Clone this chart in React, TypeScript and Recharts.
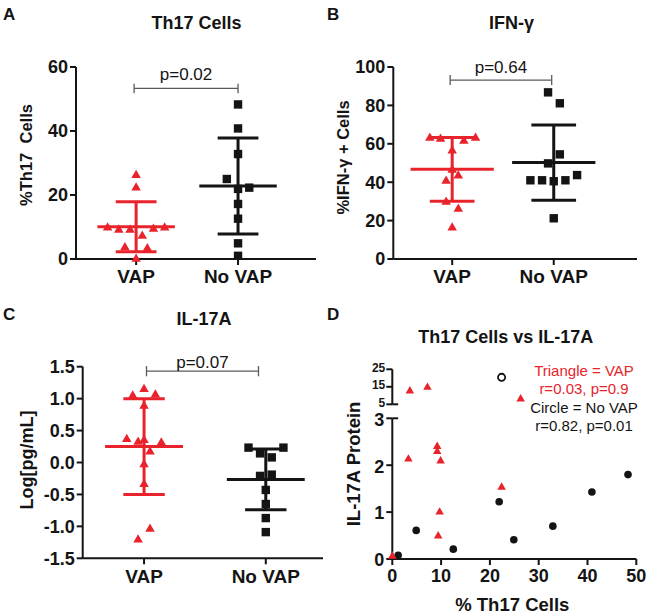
import React from 'react';
import { ScatterChart, Scatter, XAxis, YAxis, ReferenceLine } from 'recharts';

const FONT = '"Liberation Sans", Arial, sans-serif';
const RED = '#e8232b';
const BLACK = '#141414';
const GRAY = '#5a5a5a';

const groups = ['VAP', 'No VAP'];

// A: Th17 cells (%)
const th17Vap = [26.2, 22.3, 9.8, 9.1, 9.1, 9.4, 9.8, 7.2, 3.6, 3.3, 0];
const th17VapJitter = [0, 0, -0.28, -0.17, -0.06, 0.17, 0.28, 0.06, -0.11, 0.11, 0];
const th17NoVap = [48.3, 40.8, 32.8, 25.0, 21.9, 22.3, 17.2, 12.6, 4.9, 1.0];
const th17NoVapJitter = [0, 0, 0, -0.11, 0, 0.11, 0, 0, 0, 0];
const th17Mean = [10.1, 22.8];
const th17Sd = [7.8, 15.0];

// B: IFN-gamma (%)
const ifnVap = [63, 62.5, 61.5, 63, 56.4, 46.4, 40.6, 43.4, 29.7, 26, 16.3];
const ifnVapJitter = [-0.22, -0.115, 0.115, 0.23, 0, 0, -0.06, 0.06, -0.06, 0.06, 0];
const ifnNoVap = [86.8, 81.1, 54.5, 49.8, 41, 41, 40.5, 41, 43.7, 21.2];
const ifnNoVapJitter = [-0.056, 0.06, 0.06, -0.056, -0.23, -0.115, 0, 0.115, 0.23, 0];
const ifnMean = [46.7, 50.2];
const ifnSd = [16.6, 19.6];

// C: IL-17A log[pg/mL]
const il17Vap = [1.146, 1.046, 1.06, 0.885, 0.364, 0.32, 0.35, 0.31, 0.17, -0.03, -0.34, -1.04, -1.21];
const il17VapJitter = [0, -0.093, 0.093, 0, -0.142, -0.049, 0, 0.142, 0.049, 0, 0, 0.049, -0.049];
const il17NoVap = [0.233, 0.233, 0.143, 0.08, -0.21, -0.19, -0.43, -0.65, -0.87, -1.09];
const il17NoVapJitter = [-0.142, 0.145, -0.047, 0.049, -0.047, 0.049, 0, 0, 0, 0];
const il17Mean = [0.25, -0.265];
const il17Sd = [0.75, 0.475];

// D: Th17 vs IL-17A protein
const corrVapX = [3.6, 7.2, 26.3, 3.3, 9.2, 9.2, 9.9, 22.4, 9.7, 9.4, 0];
const corrVapY = [12.6, 14.7, 8, 2.13, 2.4, 2.29, 2.09, 1.53, 1.0, 0.49, 0.06];
const corrNoVapX = [1.2, 4.9, 12.5, 21.9, 24.9, 32.9, 40.9, 48.3, 22.4];
const corrNoVapY = [0.08, 0.61, 0.21, 1.22, 0.41, 0.7, 1.43, 1.8, 20.4];
const corrText = ['Triangle = VAP', 'r=0.03, p=0.9', 'Circle = No VAP', 'r=0.82, p=0.01'];

const toPoints = (vals: number[], jitter: number[], center: number) =>
  vals.map((y, i) => ({ x: center + jitter[i], y }));
const pairs = (xs: number[], ys: number[]) => xs.map((x, i) => ({ x, y: ys[i] }));

const Tri = (s: number) => (p: any) => {
  const h = s * 0.87;
  return (
    <polygon
      points={`${p.cx},${p.cy - (h * 2) / 3} ${p.cx - s / 2},${p.cy + h / 3} ${p.cx + s / 2},${p.cy + h / 3}`}
      fill={RED}
    />
  );
};
const Sq = (p: any) => <rect x={p.cx - 4.2} y={p.cy - 4.2} width={8.4} height={8.4} fill={BLACK} />;
const Dot = (p: any) => <circle cx={p.cx} cy={p.cy} r={3.8} fill={BLACK} />;
const OpenDot = (p: any) => <circle cx={p.cx} cy={p.cy} r={3.6} fill="#fff" stroke={BLACK} strokeWidth={1.8} />;

const yLabel = (text: string, dx: number, dy: number, size: number) => ({
  value: text,
  content: (props: any) => {
    const vb = props.viewBox;
    const cx = vb.x + dx;
    const cy = vb.y + vb.height / 2 + dy;
    return (
      <text x={cx} y={cy} transform={`rotate(-90 ${cx} ${cy})`} textAnchor="middle"
        dominantBaseline="central" fontFamily={FONT} fontWeight="bold" fontSize={size} fill={BLACK}
        style={{ whiteSpace: 'pre' }}>
        {text}
      </text>
    );
  },
});

const meanSd = (key: string, cx: number, mean: number, sd: number, color: string, half: number, cap: number) => [
  <ReferenceLine key={key + 'm'} segment={[{ x: cx - half, y: mean }, { x: cx + half, y: mean }]} stroke={color} strokeWidth={3} ifOverflow="visible" />,
  <ReferenceLine key={key + 'v'} segment={[{ x: cx, y: mean - sd }, { x: cx, y: mean + sd }]} stroke={color} strokeWidth={3} ifOverflow="visible" />,
  <ReferenceLine key={key + 't'} segment={[{ x: cx - cap, y: mean + sd }, { x: cx + cap, y: mean + sd }]} stroke={color} strokeWidth={3} ifOverflow="visible" />,
  <ReferenceLine key={key + 'b'} segment={[{ x: cx - cap, y: mean - sd }, { x: cx + cap, y: mean - sd }]} stroke={color} strokeWidth={3} ifOverflow="visible" />,
];

const bracket = (x1: number, x2: number, y: number, tick: number, text: string, offset: number) => [
  <ReferenceLine key="br" segment={[{ x: x1, y }, { x: x2, y }]} stroke={GRAY} strokeWidth={1.3} ifOverflow="visible"
    label={{ value: text, position: 'top', offset, fontFamily: FONT, fontSize: 17, fill: BLACK }} />,
  <ReferenceLine key="bl" segment={[{ x: x1, y: y - tick }, { x: x1, y: y + tick }]} stroke={GRAY} strokeWidth={1.3} ifOverflow="visible" />,
  <ReferenceLine key="brr" segment={[{ x: x2, y: y - tick }, { x: x2, y: y + tick }]} stroke={GRAY} strokeWidth={1.3} ifOverflow="visible" />,
];

const axisProps = {
  axisLine: { stroke: BLACK, strokeWidth: 2 },
  tickLine: { stroke: BLACK, strokeWidth: 2 },
  tickSize: 6,
  interval: 0 as const,
};
const yTick = { fill: BLACK, fontSize: 18, fontWeight: 'bold', fontFamily: FONT };
const xTick = { fill: BLACK, fontSize: 19, fontWeight: 'bold', fontFamily: FONT };

const catFormat = (v: number) => groups[Math.round(v) - 1];

const DotPlot = (props: any) => (
  <div style={{ position: 'absolute', left: props.left, top: props.top }}>
    <ScatterChart width={324} height={props.height} margin={props.margin}>
      <XAxis type="number" dataKey="x" domain={props.xDomain} ticks={[1, 2]} tickFormatter={catFormat}
        height={30} tickMargin={5} tick={xTick} {...axisProps} />
      <YAxis type="number" dataKey="y" domain={props.yDomain} ticks={props.yTicks} width={props.yWidth}
        tickFormatter={props.yFormat} tickMargin={2} tick={yTick} {...axisProps}
        label={yLabel(props.yTitle, props.labelDx, props.labelDy, props.labelSize)} />
      {bracket(props.br[0], props.br[1], props.br[2], props.br[3], props.pText, props.br[4])}
      <Scatter data={props.vap} shape={Tri(9.5)} isAnimationActive={false} />
      <Scatter data={props.noVap} shape={Sq} isAnimationActive={false} />
      {meanSd('v', 1, props.mean[0], props.sd[0], RED, props.half, props.cap)}
      {meanSd('n', 2, props.mean[1], props.sd[1], BLACK, props.half, props.cap)}
    </ScatterChart>
  </div>
);

export default function App() {
  const corrVap = pairs(corrVapX, corrVapY);
  const corrNoVap = pairs(corrNoVapX, corrNoVapY);
  return (
    <div style={{ position: 'absolute', left: 0, top: 0, width: 648, height: 615, background: '#fff', fontFamily: FONT }}>
      <DotPlot left={0} top={0} height={300} margin={{ top: 67, right: 8, bottom: 11, left: 16 }} yWidth={60}
        xDomain={[0.41, 2.765]} yDomain={[0, 60]} yTicks={[0, 20, 40, 60]} yTitle="%Th17  Cells" labelDx={10} labelDy={-8} labelSize={16.5}
        vap={toPoints(th17Vap, th17VapJitter, 1)} noVap={toPoints(th17NoVap, th17NoVapJitter, 2)}
        mean={th17Mean} sd={th17Sd} half={0.38} cap={0.2} br={[0.98, 2.0, 53.3, 1.5, 8]} pText="p=0.02" />
      <DotPlot left={324} top={0} height={300} margin={{ top: 67, right: 11, bottom: 11, left: 13.3 }} yWidth={56}
        xDomain={[0.42, 2.82]} yDomain={[0, 100]} yTicks={[0, 20, 40, 60, 80, 100]} yTitle="%IFN-γ + Cells" labelDx={5.7} labelDy={-5.5} labelSize={16.5}
        vap={toPoints(ifnVap, ifnVapJitter, 1)} noVap={toPoints(ifnNoVap, ifnNoVapJitter, 2)}
        mean={ifnMean} sd={ifnSd} half={0.41} cap={0.22} br={[0.98, 1.98, 93.2, 2.6, 7]} pText="p=0.64" />
      <DotPlot left={0} top={300} height={315} margin={{ top: 66.7, right: 1, bottom: 26.7, left: 22.7 }} yWidth={60}
        xDomain={[0.496, 2.47]} yDomain={[-1.5, 1.5]} yTicks={[-1.5, -1, -0.5, 0, 0.5, 1, 1.5]} yFormat={(v: number) => v.toFixed(1)}
        yTitle="Log[pg/mL]" labelDx={4.3} labelDy={-2.5} labelSize={18}
        vap={toPoints(il17Vap, il17VapJitter, 1)} noVap={toPoints(il17NoVap, il17NoVapJitter, 2)}
        mean={il17Mean} sd={il17Sd} half={0.32} cap={0.17} br={[1.02, 1.94, 1.43, 0.08, 3]} pText="p=0.07" />

      {/* D lower part: 0-3 */}
      <div style={{ position: 'absolute', left: 324, top: 300 }}>
        <ScatterChart width={324} height={315} margin={{ top: 118.3, right: 11.7, bottom: 0, left: 18.3 }}>
          <XAxis type="number" dataKey="x" domain={[0, 50]} ticks={[0, 10, 20, 30, 40, 50]} height={56} tickMargin={4}
            tick={yTick} {...axisProps}
            label={{
              value: '% Th17 Cells',
              content: (p: any) => (
                <text x={p.viewBox.x + p.viewBox.width / 2 - 2} y={p.viewBox.y + 52} textAnchor="middle"
                  fontFamily={FONT} fontWeight="bold" fontSize={18.5} fill={BLACK}>% Th17 Cells</text>
              ),
            }} />
          <YAxis type="number" dataKey="y" domain={[0, 3]} ticks={[0, 1, 2, 3]} width={50} tickMargin={2}
            tick={{ ...yTick, dy: 1 }} {...axisProps} label={yLabel('IL-17A Protein', 11.4, -24.7, 18.5)} />
          <ReferenceLine segment={[{ x: 0, y: 3 }, { x: 1.2, y: 3 }]} stroke={BLACK} strokeWidth={2} />
          <Scatter data={corrNoVap.filter((d) => d.y <= 3)} shape={Dot} isAnimationActive={false} />
          <Scatter data={corrVap.filter((d) => d.y <= 3)} shape={Tri(8.5)} isAnimationActive={false} />
        </ScatterChart>
      </div>
      {/* D upper part: 5-25 */}
      <div style={{ position: 'absolute', left: 324, top: 300 }}>
        <ScatterChart width={324} height={116} margin={{ top: 69.3, right: 11.7, bottom: 11.7, left: 18.3 }}>
          <XAxis type="number" dataKey="x" domain={[0, 50]} hide />
          <YAxis type="number" dataKey="y" domain={[5, 25]} ticks={[5, 15, 25]} width={50} tickMargin={1}
            tick={{ ...yTick, fontSize: 12, dy: -2 }} {...axisProps} />
          <ReferenceLine segment={[{ x: 0, y: 5 }, { x: 1.2, y: 5 }]} stroke={BLACK} strokeWidth={2} />
          <Scatter data={corrNoVap.filter((d) => d.y > 3)} shape={OpenDot} isAnimationActive={false} />
          <Scatter data={corrVap.filter((d) => d.y > 3)} shape={Tri(8.5)} isAnimationActive={false} />
        </ScatterChart>
      </div>

      <svg width={648} height={615} style={{ position: 'absolute', left: 0, top: 0, pointerEvents: 'none' }}>
        <g fontFamily={FONT} fontWeight="bold" fill={BLACK}>
          <text x={3} y={20} fontSize={17}>A</text>
          <text x={327} y={20} fontSize={17}>B</text>
          <text x={3} y={320} fontSize={17}>C</text>
          <text x={327} y={320} fontSize={17}>D</text>
          <text x={196.5} y={29.3} fontSize={18} textAnchor="middle">Th17 Cells</text>
          <text x={511.5} y={29.3} fontSize={18} textAnchor="middle">IFN-γ</text>
          <text x={204} y={325} fontSize={18} textAnchor="middle">IL-17A</text>
          <text x={505.7} y={343.3} fontSize={18} textAnchor="middle">Th17 Cells vs IL-17A</text>
        </g>
        <g fontFamily={FONT} fontSize={15} textAnchor="middle">
          {corrText.map((t, i) => (
            <text key={t} x={584} y={376 + i * 18.3} fill={i < 2 ? RED : BLACK}>{t}</text>
          ))}
        </g>
      </svg>
    </div>
  );
}
